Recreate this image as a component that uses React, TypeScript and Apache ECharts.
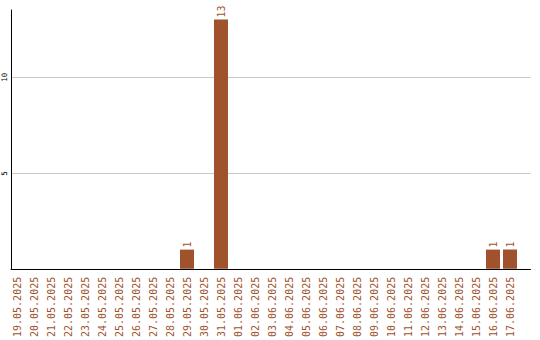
import React, { useEffect, useRef } from "react";
import * as echarts from "echarts";

const dates = [
  "19.05.2025", "20.05.2025", "21.05.2025", "22.05.2025", "23.05.2025",
  "24.05.2025", "25.05.2025", "26.05.2025", "27.05.2025", "28.05.2025",
  "29.05.2025", "30.05.2025", "31.05.2025", "01.06.2025", "02.06.2025",
  "03.06.2025", "04.06.2025", "05.06.2025", "06.06.2025", "07.06.2025",
  "08.06.2025", "09.06.2025", "10.06.2025", "11.06.2025", "12.06.2025",
  "13.06.2025", "14.06.2025", "15.06.2025", "16.06.2025", "17.06.2025",
];

const counts = [
  0, 0, 0, 0, 0, 0, 0, 0, 0, 0,
  1, 0, 13, 0, 0, 0, 0, 0, 0, 0,
  0, 0, 0, 0, 0, 0, 0, 0, 1, 1,
];

const yTicks = [5, 10];
const Y_MAX = 13.5;

const BROWN = "#a0522d";
const MONO = "DejaVu Sans Mono";

export default function App() {
  const ref = useRef<HTMLDivElement>(null);

  useEffect(() => {
    document.body.style.margin = "0";
    if (!ref.current) return;
    const chart = echarts.init(ref.current, null, { renderer: "svg" });
    chart.setOption({
      animation: false,
      grid: [
        // frame: axis lines, gridlines and y labels
        { left: 10.5, right: 9.5, top: 10, bottom: 70.5 },
        // bars and date labels
        { left: 8.5, right: 21.5, top: 10, bottom: 70.5 },
      ],
      xAxis: [
        {
          gridIndex: 0,
          type: "value",
          min: 0,
          max: 1,
          axisLine: { show: true, onZero: false, lineStyle: { color: "#000", width: 1 } },
          axisTick: { show: false },
          axisLabel: { show: false },
          splitLine: { show: false },
        },
        {
          gridIndex: 1,
          type: "category",
          data: dates,
          axisLine: { show: false },
          axisTick: { show: false },
          axisLabel: {
            rotate: 90,
            interval: 0,
            margin: 8,
            color: BROWN,
            fontFamily: MONO,
            fontSize: 10,
          },
        },
      ],
      yAxis: [
        {
          gridIndex: 0,
          type: "value",
          min: 0,
          max: Y_MAX,
          axisLine: { show: true, lineStyle: { color: "#000", width: 1 } },
          axisTick: { show: false, customValues: yTicks },
          splitLine: { lineStyle: { color: "#c8c8c8", width: 1 } },
          axisLabel: {
            customValues: yTicks,
            rotate: 90,
            margin: 3,
            color: "#000",
            fontFamily: MONO,
            fontSize: 7.5,
          },
        },
        {
          gridIndex: 1,
          type: "value",
          min: 0,
          max: Y_MAX,
          show: false,
          splitLine: { show: false },
        },
      ],
      series: [
        {
          type: "bar",
          xAxisIndex: 1,
          yAxisIndex: 1,
          data: counts,
          barCategoryGap: "17.6%",
          itemStyle: { color: BROWN },
          label: {
            show: true,
            position: "top",
            rotate: 90,
            align: "left",
            verticalAlign: "middle",
            distance: 2,
            color: BROWN,
            fontFamily: MONO,
            fontSize: 10,
            formatter: (p: any) => (p.value > 0 ? String(p.value) : ""),
          },
        },
      ],
    });
    return () => chart.dispose();
  }, []);

  return <div ref={ref} style={{ width: 540, height: 340 }} />;
}
